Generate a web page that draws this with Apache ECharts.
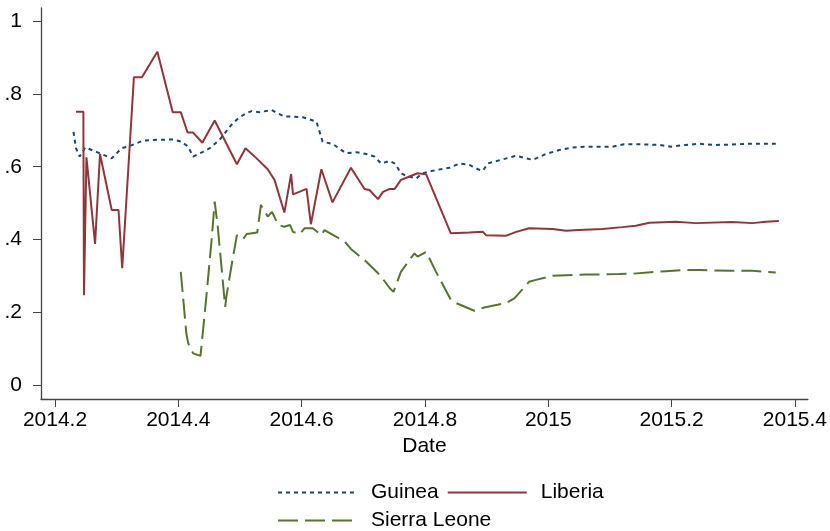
<!DOCTYPE html>
<html>
<head>
<meta charset="utf-8">
<title>Share by country</title>
<script src="https://cdn.jsdelivr.net/npm/echarts@6/dist/echarts.min.js"></script>
<style>
	html, body { margin: 0; padding: 0; background: #fff; }
	#chart { width: 830px; height: 531px; }
</style>
</head>
<body>
<div id="chart"></div>
<script>
// 数据
const guineaX = [2014.230, 2014.234, 2014.240, 2014.249, 2014.270, 2014.292, 2014.308, 2014.321, 2014.343, 2014.365,
	2014.392, 2014.405, 2014.416, 2014.424, 2014.440, 2014.451, 2014.467, 2014.486, 2014.497, 2014.510,
	2014.519, 2014.532, 2014.551, 2014.572, 2014.586, 2014.602, 2014.624, 2014.634, 2014.651, 2014.672,
	2014.689, 2014.705, 2014.718, 2014.729, 2014.743, 2014.752, 2014.761, 2014.770, 2014.786, 2014.796,
	2014.818, 2014.840, 2014.856, 2014.872, 2014.886, 2014.894, 2014.902, 2014.923, 2014.948, 2014.964,
	2014.975, 2014.996, 2015.018, 2015.039, 2015.061, 2015.088, 2015.104, 2015.123, 2015.147, 2015.180,
	2015.199, 2015.223, 2015.245, 2015.272, 2015.298, 2015.320, 2015.353, 2015.369];
const guineaY = [0.696, 0.651, 0.628, 0.653, 0.639, 0.623, 0.651, 0.657, 0.672, 0.674,
	0.675, 0.669, 0.655, 0.628, 0.641, 0.651, 0.674, 0.715, 0.733, 0.747,
	0.753, 0.750, 0.756, 0.738, 0.738, 0.736, 0.724, 0.669, 0.662, 0.637,
	0.640, 0.635, 0.628, 0.609, 0.616, 0.608, 0.582, 0.575, 0.568, 0.582,
	0.591, 0.597, 0.609, 0.605, 0.593, 0.589, 0.609, 0.619, 0.630, 0.623,
	0.619, 0.635, 0.646, 0.653, 0.655, 0.655, 0.655, 0.662, 0.662, 0.660,
	0.655, 0.660, 0.663, 0.660, 0.661, 0.663, 0.663, 0.663];

const liberiaX = [2014.234, 2014.246, 2014.247, 2014.251, 2014.265, 2014.273, 2014.292, 2014.303, 2014.309, 2014.328,
	2014.341, 2014.366, 2014.391, 2014.404, 2014.415, 2014.424, 2014.439, 2014.459, 2014.495, 2014.509,
	2014.527, 2014.545, 2014.556, 2014.572, 2014.583, 2014.586, 2014.608, 2014.615, 2014.632, 2014.650,
	2014.680, 2014.702, 2014.710, 2014.724, 2014.732, 2014.743, 2014.751, 2014.761, 2014.772, 2014.788,
	2014.802, 2014.842, 2014.872, 2014.894, 2014.899, 2014.931, 2014.948, 2014.969, 2015.007, 2015.029,
	2015.050, 2015.088, 2015.120, 2015.142, 2015.164, 2015.207, 2015.239, 2015.298, 2015.331, 2015.353,
	2015.374];
const liberiaY = [0.751, 0.751, 0.247, 0.626, 0.388, 0.635, 0.481, 0.481, 0.321, 0.846,
	0.846, 0.916, 0.750, 0.750, 0.694, 0.694, 0.666, 0.727, 0.607, 0.651,
	0.623, 0.593, 0.564, 0.474, 0.580, 0.524, 0.539, 0.442, 0.593, 0.502,
	0.597, 0.539, 0.536, 0.511, 0.531, 0.539, 0.539, 0.564, 0.571, 0.582,
	0.579, 0.417, 0.419, 0.421, 0.412, 0.410, 0.421, 0.431, 0.429, 0.424,
	0.426, 0.429, 0.434, 0.438, 0.446, 0.449, 0.445, 0.448, 0.445, 0.449,
	0.451];

const sierraX = [2014.404, 2014.413, 2014.416, 2014.424, 2014.436, 2014.446, 2014.454, 2014.459, 2014.464, 2014.470,
	2014.476, 2014.478, 2014.486, 2014.495, 2014.505, 2014.511, 2014.528, 2014.534, 2014.545, 2014.552,
	2014.562, 2014.572, 2014.581, 2014.586, 2014.597, 2014.605, 2014.618, 2014.632, 2014.637, 2014.670,
	2014.680, 2014.705, 2014.724, 2014.729, 2014.743, 2014.749, 2014.761, 2014.775, 2014.783, 2014.788,
	2014.802, 2014.818, 2014.842, 2014.851, 2014.880, 2014.896, 2014.931, 2014.945, 2014.969, 2014.980,
	2015.007, 2015.029, 2015.061, 2015.083, 2015.115, 2015.137, 2015.166, 2015.191, 2015.217, 2015.245,
	2015.298, 2015.331, 2015.369];
const sierraY = [0.311, 0.142, 0.115, 0.087, 0.080, 0.252, 0.399, 0.504, 0.435, 0.325,
	0.215, 0.243, 0.325, 0.412, 0.401, 0.415, 0.419, 0.495, 0.463, 0.476,
	0.440, 0.435, 0.440, 0.421, 0.415, 0.431, 0.431, 0.412, 0.426, 0.394,
	0.374, 0.339, 0.307, 0.298, 0.266, 0.256, 0.311, 0.344, 0.362, 0.353,
	0.366, 0.311, 0.234, 0.225, 0.204, 0.213, 0.225, 0.238, 0.284, 0.289,
	0.300, 0.302, 0.304, 0.304, 0.305, 0.306, 0.310, 0.313, 0.316, 0.316,
	0.314, 0.314, 0.309];

// 刻度
const xTickValues = [2014.2, 2014.4, 2014.6, 2014.8, 2015, 2015.2, 2015.4];
const xTickLabels = ['2014.2', '2014.4', '2014.6', '2014.8', '2015', '2015.2', '2015.4'];
const yTickValues = [0, 0.2, 0.4, 0.6, 0.8, 1];
const yTickLabels = ['0', '.2', '.4', '.6', '.8', '1'];

// 轴范围略大于刻度范围（Stata 风格的留白）
const X_MIN = 2014.1773;
const X_MAX = 2015.4211;
const Y_MIN = -0.0385;
const Y_MAX = 1.0364;

const FONT = '"Liberation Sans", Arial, Helvetica, sans-serif';
const AXIS_COLOR = '#444';

const pairs = (xs, ys) => xs.map((x, i) => [x, ys[i]]);
const labelOf = (values, labels) => v => {
	const i = values.findIndex(t => Math.abs(t - v) < 1e-6);
	return i >= 0 ? labels[i] : '';
};

window.onload = function () {
	const chart = echarts.init(document.getElementById('chart'), null, { renderer: 'canvas' });

	const legendCommon = {
		orient: 'horizontal',
		itemWidth: 79,
		itemHeight: 14,
		itemGap: 8,
		itemStyle: { opacity: 0 },
		textStyle: { fontSize: 21, color: '#000', fontFamily: FONT, padding: [0, 0, 0, 9] }
	};

	const option = {
		animation: false,
		backgroundColor: '#fff',
		textStyle: { fontFamily: FONT, color: '#000' },
		grid: { left: 41, right: 22, top: 8, bottom: 132 },
		xAxis: {
			type: 'value',
			min: X_MIN,
			max: X_MAX,
			name: 'Date',
			nameLocation: 'middle',
			nameGap: 31,
			nameTextStyle: { fontSize: 21, color: '#000', fontFamily: FONT },
			axisLine: { show: true, onZero: false, lineStyle: { color: AXIS_COLOR, width: 1.3 } },
			axisTick: { show: true, length: 8, customValues: xTickValues, lineStyle: { color: AXIS_COLOR, width: 1 } },
			axisLabel: {
				fontSize: 21,
				color: '#000',
				fontFamily: FONT,
				margin: 11,
				customValues: xTickValues,
				formatter: labelOf(xTickValues, xTickLabels)
			},
			splitLine: { show: false }
		},
		yAxis: {
			type: 'value',
			min: Y_MIN,
			max: Y_MAX,
			axisLine: { show: true, onZero: false, lineStyle: { color: AXIS_COLOR, width: 1.3 } },
			axisTick: { show: true, length: 8, customValues: yTickValues, lineStyle: { color: AXIS_COLOR, width: 1 } },
			axisLabel: {
				fontSize: 21,
				color: '#000',
				fontFamily: FONT,
				margin: 19,
				customValues: yTickValues,
				formatter: labelOf(yTickValues, yTickLabels)
			},
			splitLine: { show: false }
		},
		legend: [
			Object.assign({ data: ['Guinea', 'Liberia'], left: 272, top: 477 }, legendCommon),
			Object.assign({ data: ['Sierra Leone'], left: 272, top: 505 }, legendCommon)
		],
		series: [
			{
				name: 'Guinea',
				type: 'line',
				symbol: 'none',
				data: pairs(guineaX, guineaY),
				itemStyle: { color: '#1a476f' },
				lineStyle: { color: '#1a476f', width: 2, type: [4, 4] }
			},
			{
				name: 'Liberia',
				type: 'line',
				symbol: 'none',
				data: pairs(liberiaX, liberiaY),
				itemStyle: { color: '#90353b' },
				lineStyle: { color: '#90353b', width: 2, type: 'solid' }
			},
			{
				name: 'Sierra Leone',
				type: 'line',
				symbol: 'none',
				data: pairs(sierraX, sierraY),
				itemStyle: { color: '#55752f' },
				lineStyle: { color: '#55752f', width: 2, type: [20, 7] }
			}
		]
	};

	chart.setOption(option);
};
</script>
</body>
</html>
